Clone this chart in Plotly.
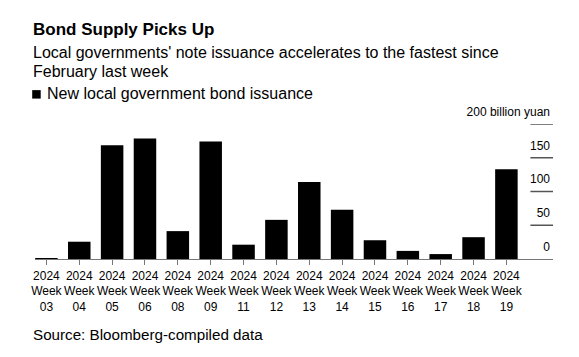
import plotly.graph_objects as go

# ---- data ----
weeks = ["2024 Week 03", "2024 Week 04", "2024 Week 05", "2024 Week 06", "2024 Week 08",
         "2024 Week 09", "2024 Week 11", "2024 Week 12", "2024 Week 13", "2024 Week 14",
         "2024 Week 15", "2024 Week 16", "2024 Week 17", "2024 Week 18", "2024 Week 19"]
week_labels = ["2024<br>Week<br>03", "2024<br>Week<br>04", "2024<br>Week<br>05", "2024<br>Week<br>06",
               "2024<br>Week<br>08", "2024<br>Week<br>09", "2024<br>Week<br>11", "2024<br>Week<br>12",
               "2024<br>Week<br>13", "2024<br>Week<br>14", "2024<br>Week<br>15", "2024<br>Week<br>16",
               "2024<br>Week<br>17", "2024<br>Week<br>18", "2024<br>Week<br>19"]
issuance = [1.2, 25.6, 168.5, 178.5, 41.3, 174.0, 21.2, 58.0, 114.0, 73.0, 27.8, 12.0, 7.3, 32.3, 132.8]
y_tickvals = [0, 50, 100, 150, 200]
y_ticktext = ["0", "50", "100", "150", "200 billion yuan"]
series_name = "New local government bond issuance"

W, H = 579, 357
OFF = 8.0  # page body margin
L, R, T, B = 35.3 - OFF, 553.3 - OFF, 124.0 - OFF, 259.5 - OFF
FONT = "Liberation Sans, Arial, Helvetica, sans-serif"


def px(x):
    return (x - OFF - L) / (R - L)


def py(y):
    return (B - (y - OFF)) / (B - T)


fig = go.Figure()
fig.add_trace(go.Bar(
    x=weeks, y=issuance, name=series_name,
    marker=dict(color="#000000", line=dict(width=0)),
    width=0.685, showlegend=False,
))

shapes = []
for v in y_tickvals[1:]:
    shapes.append(dict(type="line", xref="paper", yref="y", x0=px(530.7), x1=px(553.3),
                       y0=v, y1=v, line=dict(color="#555555", width=1.5)))
# legend swatch
shapes.append(dict(type="rect", xref="paper", yref="paper", x0=px(32.5), x1=px(41.0),
                   y0=py(98.5), y1=py(90.0), fillcolor="#000000", line=dict(width=0)))

annotations = [
    dict(text="<b>Bond Supply Picks Up</b>", x=px(31.5), y=py(29.0), xref="paper", yref="paper",
         xanchor="left", yanchor="middle", showarrow=False, font=dict(size=17, color="#000", family=FONT)),
    dict(text="Local governments' note issuance accelerates to the fastest since", x=px(31.5), y=py(52.0),
         xref="paper", yref="paper", xanchor="left", yanchor="middle", showarrow=False,
         font=dict(size=16, color="#000", family=FONT)),
    dict(text="February last week", x=px(31.5), y=py(71.0),
         xref="paper", yref="paper", xanchor="left", yanchor="middle", showarrow=False,
         font=dict(size=16, color="#000", family=FONT)),
    dict(text=series_name, x=px(45.5), y=py(93.5),
         xref="paper", yref="paper", xanchor="left", yanchor="middle", showarrow=False,
         font=dict(size=16, color="#000", family=FONT)),
    dict(text="Source: Bloomberg-compiled data", x=px(31.5), y=py(335.5),
         xref="paper", yref="paper", xanchor="left", yanchor="middle", showarrow=False,
         font=dict(size=15.2, color="#000", family=FONT)),
]

fig.update_layout(
    template="none",
    width=W, height=H,
    margin=dict(l=L, r=W - R, t=T, b=H - B, pad=0),
    paper_bgcolor="#ffffff", plot_bgcolor="#ffffff",
    font=dict(family=FONT, color="#000000"),
    shapes=shapes, annotations=annotations,
    bargap=0.3,
    xaxis=dict(
        type="category", range=[-0.347, 15.418],
        tickmode="array", tickvals=weeks, ticktext=week_labels, tickangle=0,
        tickfont=dict(size=12, color="#000", family=FONT),
        showline=True, linecolor="#777777", linewidth=1.2,
        ticks="outside", ticklen=5, tickcolor="#777777", tickwidth=1,
        showgrid=False, zeroline=False, fixedrange=True, automargin=False,
    ),
    yaxis=dict(
        range=[0, 200], side="right",
        tickmode="array", tickvals=y_tickvals, ticktext=y_ticktext,
        ticklabelposition="inside top", ticklabeloverflow="allow",
        ticklabelshift=-4,
        tickfont=dict(size=12, color="#000", family=FONT),
        ticks="", showgrid=False, zeroline=False, showline=False, fixedrange=True,
        automargin=False,
    ),
)

fig.write_html("out.html", config={"displayModeBar": False})
